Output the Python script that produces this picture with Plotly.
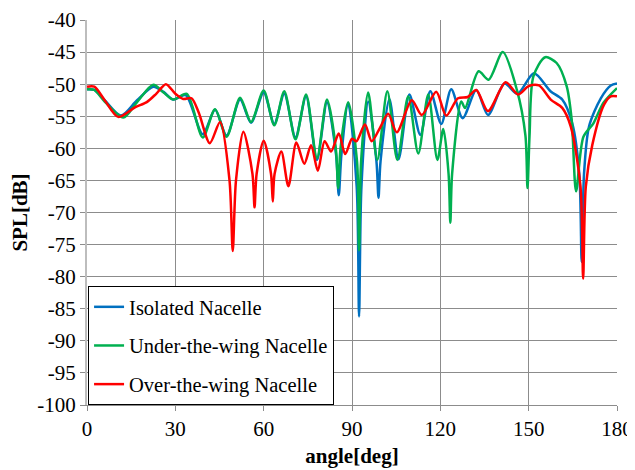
import plotly.graph_objects as go

# ---- data ----
iso_angle = [0, 2.5, 6, 11.5, 17, 22.5, 26, 29.3, 33.5, 39.3, 43.5, 47.4, 52, 55.7, 60,
             63.6, 67, 70.8, 74.4, 78.1, 81.5, 84.6, 85.5, 86.4, 88.7, 91.6, 92.4, 93.2, 95.5,
             98.3, 99.0, 99.7, 102.7, 105.8, 109.5, 113.2, 116.6, 120.3, 123.7, 127.6,
             132.2, 136.2, 141.8, 146.2, 151.8, 157.4, 161.4, 164.8, 167.2, 168.0, 168.8,
             170.5, 174.5, 177.9, 180]
iso_spl = [-50.8, -50.9, -52.5, -54.9, -52.5, -50.4, -51.2, -52.4, -51.7, -57.8, -54.0, -58.0,
           -52.4, -56.0, -51.3, -56.2, -51.5, -58.3, -51.9, -61.8, -52.8, -61.0, -67.3, -61.0,
           -53.0, -66.0, -86.2, -66.0, -52.7, -62.0, -67.7, -62.0, -52.3, -61.7, -51.6, -57.9,
           -51.1, -56.2, -50.8, -55.3, -50.9, -54.8, -49.9, -51.5, -48.3, -51.1, -52.4, -56.1,
           -64.0, -77.7, -64.0, -56.6, -52.2, -50.2, -49.9]

utw_angle = [0, 2.5, 6, 12.3, 17, 22.5, 26, 29.3, 33.9, 39.3, 43.5, 47.4, 52, 55.7, 60,
             63.6, 67, 70.8, 74.4, 78.1, 81.5, 84.5, 85.3, 86.1, 88.7, 91.7, 92.4, 93.1, 95.5,
             98.6, 102, 105.4, 109.1, 112.5, 115.9, 119, 121, 122.8, 123.4, 124.0, 127.1,
             128.4, 133, 136.4, 141.2, 146, 148.9, 149.6, 150.3, 151.6, 155.6, 159.5, 162.9,
             164.6, 166.1, 168.6, 172, 175.4, 180]
utw_spl = [-50.8, -50.9, -52.7, -55.2, -52.8, -50.1, -51.3, -52.4, -51.5, -58.3, -53.9, -58.2,
           -52.1, -55.9, -51.0, -56.4, -51.1, -58.6, -51.6, -61.5, -52.4, -60.0, -66.2, -60.0,
           -52.8, -62.0, -75.9, -62.0, -51.3, -61.8, -51.1, -61.8, -51.9, -60.8, -51.6, -61.8,
           -57.0, -64.0, -71.6, -64.0, -52.7, -53.7, -48.0, -49.3, -45.0, -50.9, -58.0, -66.2,
           -58.0, -48.8, -45.8, -46.7, -50.3, -55.5, -66.7, -58.2, -56.1, -52.9, -50.6]

otw_angle = [0, 2.5, 6, 10.6, 16.3, 20.3, 23.5, 26.8, 30, 32.7, 35.5, 38, 41.7, 45.2, 48.4,
             49.5, 50.6, 53.1, 56.2, 56.9, 57.6, 60, 62.5, 63.1, 63.7, 66, 68.4, 71.1, 73.8,
             76.1, 78.4, 80.7, 82.9, 85.5, 87.7, 90, 91.5, 94.4, 96.7, 99.5, 102.3, 105.2,
             110.3, 113.7, 118.6, 122, 126, 129.3, 132.2, 136.2, 142.2, 146.4, 150, 153.5,
             157.5, 161.4, 164.3, 167.6, 168.5, 169.4, 171.6, 175.6, 177.9, 180]
otw_spl = [-50.4, -50.4, -52.5, -55.1, -53.6, -52.8, -51.5, -50.0, -51.5, -52.3, -52.2, -54.5,
           -59.2, -55.9, -65.0, -76.0, -65.0, -57.4, -64.0, -69.2, -64.0, -58.8, -64.0, -68.3,
           -64.0, -60.5, -65.9, -59.1, -62.4, -59.5, -63.5, -58.9, -60.5, -57.7, -60.9, -58.5,
           -58.9, -56.3, -58.9, -56.8, -54.6, -57.5, -52.5, -54.8, -51.2, -54.9, -52.2, -52.0,
           -50.9, -54.2, -49.7, -51.6, -50.3, -50.2, -52.4, -53.7, -56.6, -66.0, -80.3, -66.0,
           -59.5, -53.2, -51.9, -51.9]

series = [
    ("Isolated Nacelle", iso_angle, iso_spl, "#0070C0"),
    ("Under-the-wing Nacelle", utw_angle, utw_spl, "#00B050"),
    ("Over-the-wing Nacelle", otw_angle, otw_spl, "#FF0000"),
]

x_ticks = [0, 30, 60, 90, 120, 150, 180]
y_ticks = list(range(-100, -35, 5))

fig = go.Figure()
for i, (name, xs, ys, col) in enumerate(series):
    fig.add_trace(go.Scatter(
        x=xs, y=ys, name=name, mode="lines",
        line=dict(color=col, width=2.5, shape="spline", smoothing=0.8),
        legendgroup=f"g{i}",
    ))

font_family = "Liberation Serif, Times New Roman, serif"
fs = 21
# page body adds an 8px offset, so the figure is sized 627x462
fig.update_layout(
    width=627, height=462,
    margin=dict(l=79, r=18, t=12, b=65, autoexpand=False),
    paper_bgcolor="white", plot_bgcolor="white",
    font=dict(family=font_family, size=fs, color="black"),
    showlegend=True,
    legend=dict(
        x=0.002, y=0.0, xanchor="left", yanchor="bottom",
        bgcolor="white", bordercolor="black", borderwidth=1,
        font=dict(family=font_family, size=20.5, color="black"),
        tracegroupgap=9,
        itemwidth=30,
    ),
)
fig.update_xaxes(
    range=[0, 180], tickvals=x_ticks, ticktext=[str(v) for v in x_ticks],
    showgrid=True, gridcolor="#8c8c8c", gridwidth=1,
    showline=True, linecolor="#8c8c8c", linewidth=1,
    ticks="outside", ticklen=5, tickcolor="#8c8c8c",
    zeroline=False, automargin=False,
    title=dict(text="<b>angle[deg]</b>", font=dict(family=font_family, size=fs), standoff=8),
    tickfont=dict(family=font_family, size=fs),
)
fig.update_yaxes(
    range=[-100, -40], tickvals=y_ticks, ticktext=[str(v) for v in y_ticks],
    showgrid=True, gridcolor="#8c8c8c", gridwidth=1,
    showline=True, linecolor="#bdbdbd", linewidth=2,
    ticks="outside", ticklen=5, tickcolor="#8c8c8c",
    zeroline=False, automargin=False,
    title=dict(text="<b>SPL[dB]</b>", font=dict(family=font_family, size=fs), standoff=4),
    tickfont=dict(family=font_family, size=fs),
)

fig.write_html("out.html")
